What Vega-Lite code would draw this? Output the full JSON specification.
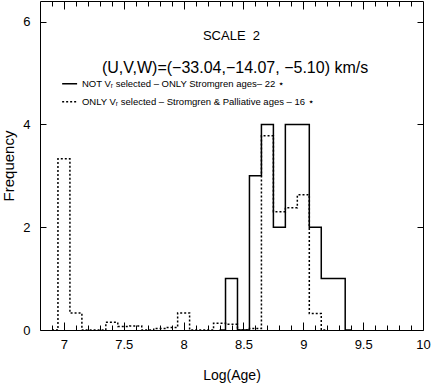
{
  "$schema": "https://vega.github.io/schema/vega-lite/v6.json",
  "width": 383,
  "height": 329,
  "autosize": {"type": "none"},
  "padding": {"left": 40, "top": 1, "right": 9, "bottom": 57},
  "background": "white",
  "config": {
    "view": {"stroke": "black", "strokeWidth": 1},
    "font": "Liberation Sans",
    "axis": {
      "domain": false, "grid": false, "tickColor": "black", "tickWidth": 1,
      "labelColor": "black", "titleColor": "black",
      "labelFont": "Liberation Sans", "titleFont": "Liberation Sans",
      "labelFontSize": 13, "titleFontSize": 14, "titleFontWeight": "normal"
    }
  },
  "datasets": {
    "solid": [
      {"logage": 8.3, "n": 0}, {"logage": 8.4, "n": 1}, {"logage": 8.5, "n": 0},
      {"logage": 8.6, "n": 3}, {"logage": 8.7, "n": 4}, {"logage": 8.8, "n": 2},
      {"logage": 8.9, "n": 4}, {"logage": 9.0, "n": 4}, {"logage": 9.1, "n": 2},
      {"logage": 9.2, "n": 1}, {"logage": 9.3, "n": 1}, {"logage": 9.4, "n": 0}
    ],
    "dotted": [
      {"logage": 6.9, "n": 0}, {"logage": 7.0, "n": 3.33}, {"logage": 7.1, "n": 0.33},
      {"logage": 7.2, "n": 0}, {"logage": 7.3, "n": 0}, {"logage": 7.4, "n": 0.15},
      {"logage": 7.5, "n": 0.07}, {"logage": 7.6, "n": 0.08}, {"logage": 7.7, "n": 0},
      {"logage": 7.8, "n": 0.03}, {"logage": 7.9, "n": 0.05}, {"logage": 8.0, "n": 0.33},
      {"logage": 8.1, "n": 0}, {"logage": 8.2, "n": 0}, {"logage": 8.3, "n": 0.13},
      {"logage": 8.4, "n": 0.11}, {"logage": 8.5, "n": 0}, {"logage": 8.6, "n": 0.03},
      {"logage": 8.7, "n": 3.78}, {"logage": 8.8, "n": 2.3}, {"logage": 8.9, "n": 2.38},
      {"logage": 9.0, "n": 2.63}, {"logage": 9.1, "n": 0.32}, {"logage": 9.2, "n": 0}
    ],
    "one": [{}]
  },
  "resolve": {"axis": {"x": "independent", "y": "independent"}},
  "layer": [
    {
      "data": {"name": "solid"},
      "mark": {"type": "line", "interpolate": "step", "color": "black", "strokeWidth": 1.5},
      "encoding": {
        "x": {"field": "logage", "type": "quantitative",
              "scale": {"domain": [6.8, 10], "nice": false, "zero": false},
              "axis": {"orient": "bottom", "values": [7, 7.5, 8, 8.5, 9, 9.5, 10], "format": "~g",
                       "tickSize": -8, "labelPadding": 16, "labelFlush": false, "labelOverlap": false,
                       "title": "Log(Age)", "titlePadding": 17}},
        "y": {"field": "n", "type": "quantitative",
              "scale": {"domain": [0, 6.4], "nice": false, "zero": false},
              "axis": {"orient": "left", "values": [0, 2, 4, 6], "format": "d",
                       "tickSize": -6, "labelPadding": 16, "title": "Frequency", "titleFontSize": 15, "titlePadding": 6}}
      }
    },
    {
      "data": {"name": "dotted"},
      "mark": {"type": "line", "interpolate": "step", "color": "black", "strokeWidth": 1.5, "strokeDash": [2, 2]},
      "encoding": {
        "x": {"field": "logage", "type": "quantitative",
              "scale": {"domain": [6.8, 10], "nice": false, "zero": false},
              "axis": {"orient": "bottom", "values": [6.9, 7.1, 7.2, 7.3, 7.4, 7.6, 7.7, 7.8, 7.9, 8.1, 8.2, 8.3, 8.4, 8.6, 8.7, 8.8, 8.9, 9.1, 9.2, 9.3, 9.4, 9.6, 9.7, 9.8, 9.9],
                       "tickSize": -5, "labels": false, "title": null}},
        "y": {"field": "n", "type": "quantitative",
              "scale": {"domain": [0, 6.4], "nice": false, "zero": false},
              "axis": {"orient": "right", "values": [2, 4, 6], "tickSize": -6, "labels": false, "title": null}}
      }
    },
    {
      "data": {"name": "one"},
      "mark": {"type": "rule", "color": "black", "strokeWidth": 1.5},
      "encoding": {
        "x": {"datum": 6.985, "type": "quantitative",
              "scale": {"domain": [6.8, 10], "nice": false, "zero": false},
              "axis": {"orient": "top", "values": [7, 7.5, 8, 8.5, 9, 9.5], "tickSize": -8, "labels": false, "title": null}},
        "x2": {"datum": 7.11},
        "y": {"datum": 4.79, "type": "quantitative",
              "scale": {"domain": [0, 6.4], "nice": false, "zero": false}, "axis": null}
      }
    },
    {
      "data": {"name": "one"},
      "mark": {"type": "rule", "color": "black", "strokeWidth": 1.5, "strokeDash": [2, 2]},
      "encoding": {
        "x": {"datum": 6.985, "type": "quantitative",
              "scale": {"domain": [6.8, 10], "nice": false, "zero": false},
              "axis": {"orient": "top", "values": [6.9, 7.1, 7.2, 7.3, 7.4, 7.6, 7.7, 7.8, 7.9, 8.1, 8.2, 8.3, 8.4, 8.6, 8.7, 8.8, 8.9, 9.1, 9.2, 9.3, 9.4, 9.6, 9.7, 9.8, 9.9],
                       "tickSize": -5, "labels": false, "title": null}},
        "x2": {"datum": 7.11},
        "y": {"datum": 4.44, "type": "quantitative",
              "scale": {"domain": [0, 6.4], "nice": false, "zero": false}, "axis": null}
      }
    },
    {
      "data": {"name": "one"},
      "mark": {"type": "text", "text": "SCALE\u00a0\u00a02", "fontSize": 13, "font": "Liberation Sans", "color": "black", "align": "center", "baseline": "middle"},
      "encoding": {
        "x": {"datum": 8.4, "type": "quantitative", "scale": {"domain": [6.8, 10], "nice": false, "zero": false}, "axis": null},
        "y": {"datum": 5.71, "type": "quantitative", "scale": {"domain": [0, 6.4], "nice": false, "zero": false}, "axis": null}
      }
    },
    {
      "data": {"name": "one"},
      "mark": {"type": "text", "text": "(U,V,W)=(−33.04,−14.07, −5.10) km/s", "fontSize": 16, "font": "Liberation Sans", "color": "black", "align": "center", "baseline": "middle"},
      "encoding": {
        "x": {"datum": 8.43, "type": "quantitative", "scale": {"domain": [6.8, 10], "nice": false, "zero": false}, "axis": null},
        "y": {"datum": 5.1, "type": "quantitative", "scale": {"domain": [0, 6.4], "nice": false, "zero": false}, "axis": null}
      }
    },
    {
      "data": {"name": "one"},
      "mark": {"type": "text", "text": "NOT Vᵣ selected – ONLY Stromgren ages– 22 ⋆", "fontSize": 9.5, "font": "Liberation Sans", "color": "black", "align": "left", "baseline": "middle"},
      "encoding": {
        "x": {"datum": 7.15, "type": "quantitative", "scale": {"domain": [6.8, 10], "nice": false, "zero": false}, "axis": null},
        "y": {"datum": 4.79, "type": "quantitative", "scale": {"domain": [0, 6.4], "nice": false, "zero": false}, "axis": null}
      }
    },
    {
      "data": {"name": "one"},
      "mark": {"type": "text", "text": "ONLY Vᵣ selected – Stromgren & Palliative ages – 16 ⋆", "fontSize": 9.5, "font": "Liberation Sans", "color": "black", "align": "left", "baseline": "middle"},
      "encoding": {
        "x": {"datum": 7.15, "type": "quantitative", "scale": {"domain": [6.8, 10], "nice": false, "zero": false}, "axis": null},
        "y": {"datum": 4.44, "type": "quantitative", "scale": {"domain": [0, 6.4], "nice": false, "zero": false}, "axis": null}
      }
    }
  ]
}
